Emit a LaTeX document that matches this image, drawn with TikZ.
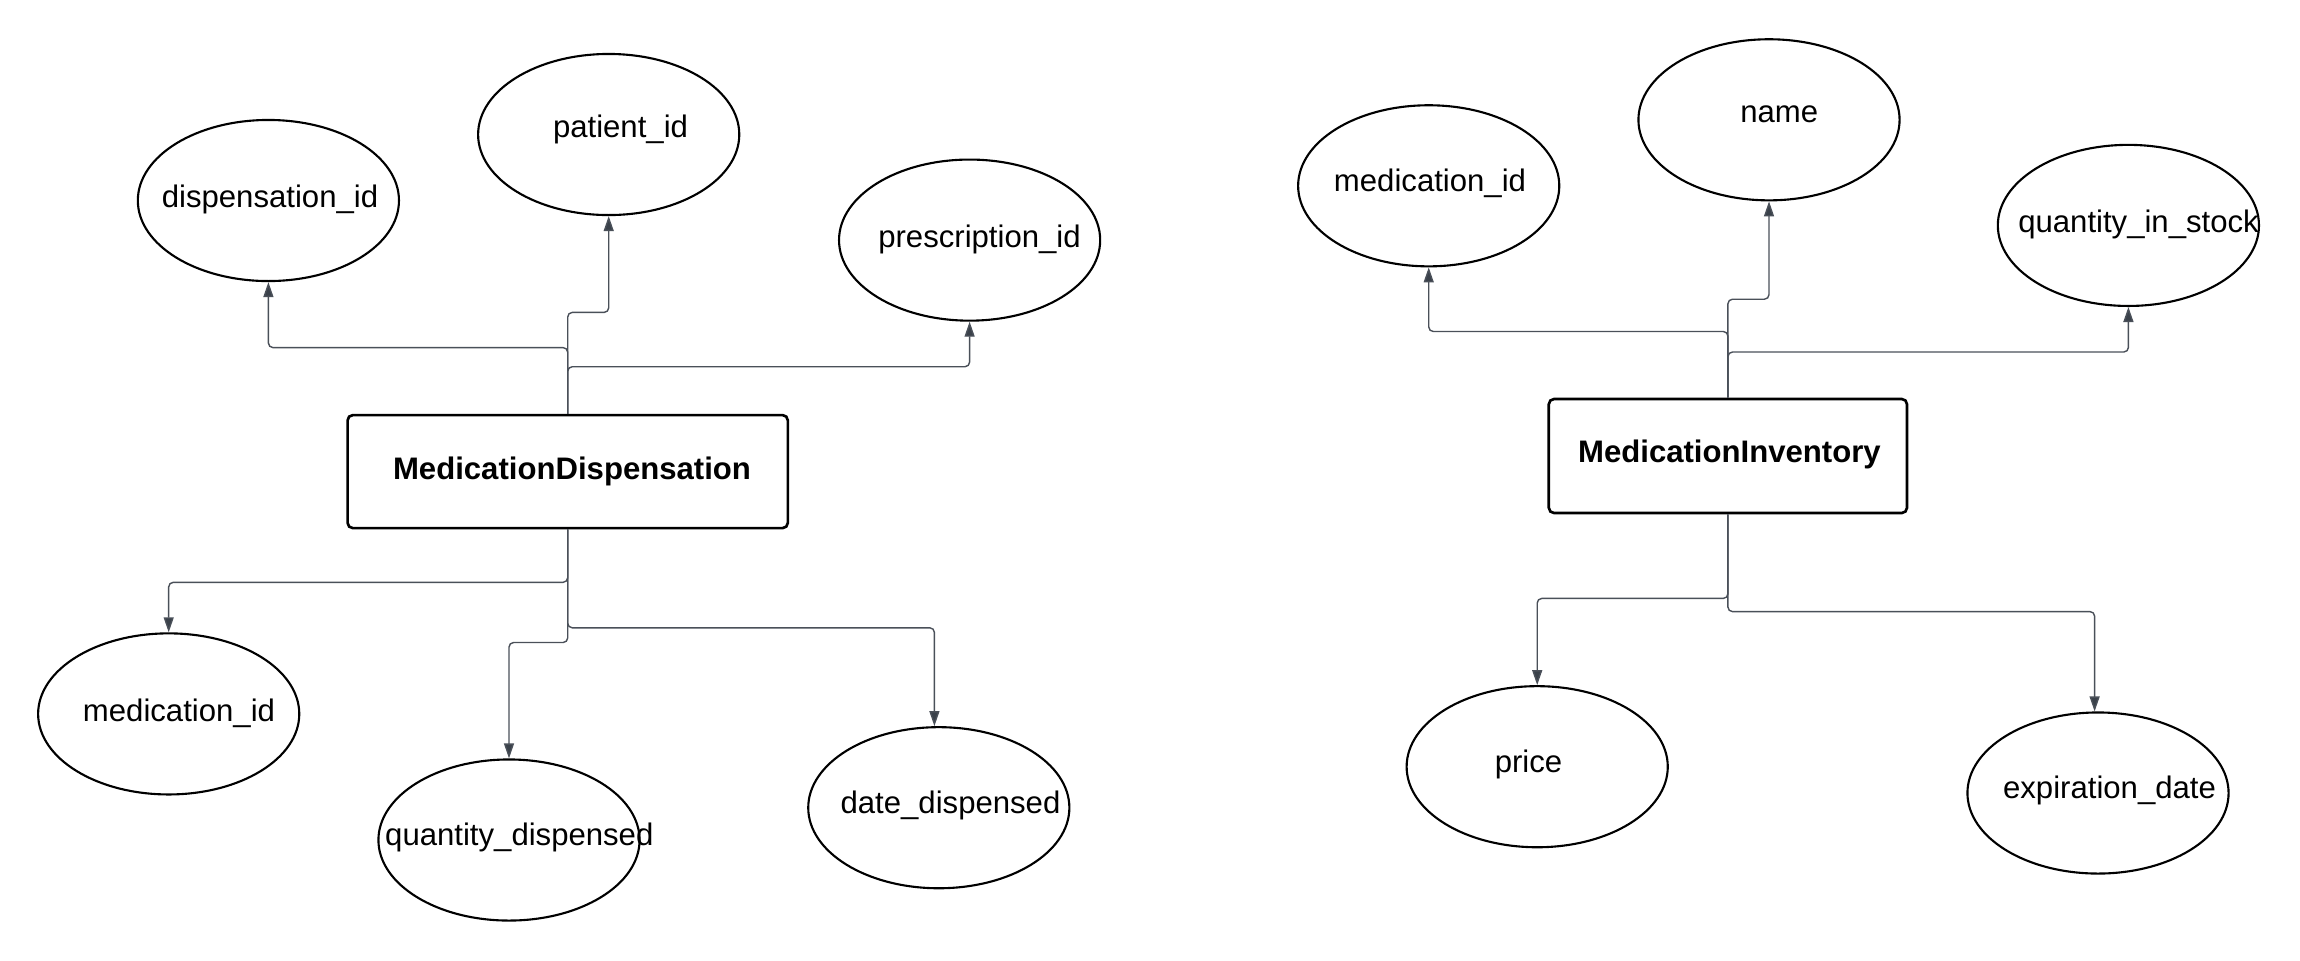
\documentclass[tikz,border=0pt]{standalone}
\usepackage{fontspec}
\setmainfont{Liberation Sans}
\usetikzlibrary{shapes.geometric,arrows.meta}
\definecolor{linegray}{HTML}{4A5059}
\definecolor{tipgray}{HTML}{3A414A}
\tikzset{
  attr/.style={draw=black,line width=0.6pt,ellipse,minimum width=2.61cm,minimum height=1.61cm,inner sep=0pt},
  lbl/.style={font=\fontsize{8.85}{10}\selectfont,inner sep=0pt},
  entity/.style={draw=black,line width=0.75pt,rounded corners=1.5pt,inner sep=0pt},
  conn/.style={draw=linegray,line width=0.4pt,rounded corners=1.3pt,-{Triangle[length=0.15cm,width=0.10cm,fill=tipgray]}}
}
\begin{document}
\begin{tikzpicture}[x=0.01cm,y=-0.01cm]
\useasboundingbox (0,0) rectangle (2300,960);
% left entity
\node[entity,minimum width=4.40cm,minimum height=1.13cm] (md) at (567.7,471.6) {};
\node[lbl,font=\fontsize{8.85}{10}\selectfont\bfseries] (mdt) at (572,471) {MedicationDispensation};
\node[attr] (a1) at (268.4,200.5) {};
\node[lbl] (a1t) at (270,199.5) {dispensation\_id};
\node[attr] (a2) at (608.7,134.5) {};
\node[lbl] (a2t) at (620.5,129) {patient\_id};
\node[attr] (a3) at (969.6,240.1) {};
\node[lbl] (a3t) at (979.5,239) {prescription\_id};
\node[attr] (a4) at (168.7,713.9) {};
\node[lbl] (a4t) at (179,713) {medication\_id};
\node[attr] (a5) at (509,840) {};
\node[lbl] (a5t) at (519.3,837.6) {quantity\_dispensed};
\node[attr] (a6) at (938.8,807.7) {};
\node[lbl] (a6t) at (950.5,805) {date\_dispensed};
% right entity
\node[entity,minimum width=3.58cm,minimum height=1.14cm] (mi) at (1727.9,456) {};
\node[lbl,font=\fontsize{8.85}{10}\selectfont\bfseries] (mit) at (1729.4,454.8) {MedicationInventory};
\node[attr] (b1) at (1428.7,185.8) {};
\node[lbl] (b1t) at (1430,183.4) {medication\_id};
\node[attr] (b2) at (1769,119.8) {};
\node[lbl] (b2t) at (1779.2,114.5) {name};
\node[attr] (b3) at (2128.4,225.4) {};
\node[lbl] (b3t) at (2138.5,224.5) {quantity\_in\_stock};
\node[attr] (b4) at (1537.2,766.7) {};
\node[lbl] (b4t) at (1528.5,764) {price};
\node[attr] (b5) at (2098,793) {};
\node[lbl] (b5t) at (2109.5,790.7) {expiration\_date};
% left connectors
\draw[conn] (md.north) -- (md.north |- 0,347.6) -| (a1.south);
\draw[conn] (md.north) -- (md.north |- 0,312.4) -| (a2.south);
\draw[conn] (md.north) -- (md.north |- 0,366.7) -| (a3.south);
\draw[conn] (md.south) -- (md.south |- 0,582.3) -| (a4.north);
\draw[conn] (md.south) -- (md.south |- 0,642.5) -| (a5.north);
\draw[conn] (md.south) -- (md.south |- 0,627.8) -| ([xshift=-0.044cm]a6.north);
% right connectors
\draw[conn] (mi.north) -- (mi.north |- 0,331.5) -| (b1.south);
\draw[conn] (mi.north) -- (mi.north |- 0,299.2) -| (b2.south);
\draw[conn] (mi.north) -- (mi.north |- 0,352) -| (b3.south);
\draw[conn] (mi.south) -- (mi.south |- 0,598.4) -| (b4.north);
\draw[conn] (mi.south) -- (mi.south |- 0,611.6) -| ([xshift=-0.034cm]b5.north);
\end{tikzpicture}
\end{document}
